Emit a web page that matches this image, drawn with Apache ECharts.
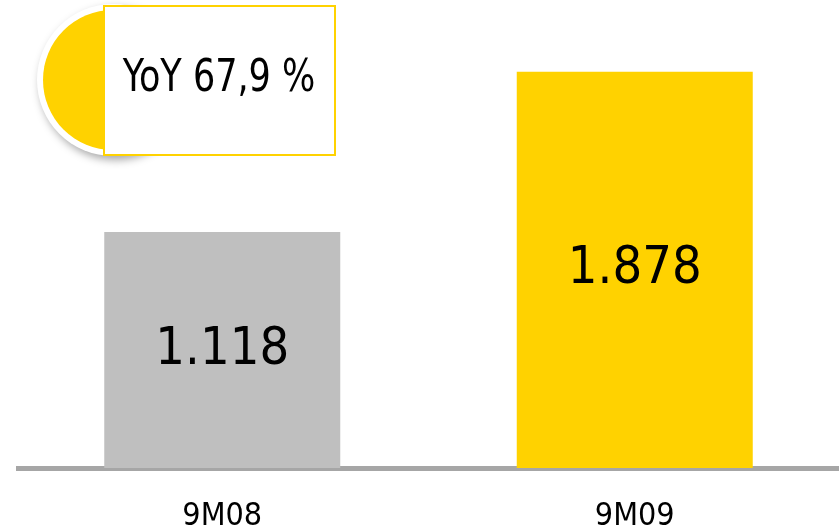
<!DOCTYPE html>
<html>
<head>
<meta charset="utf-8">
<script src="https://cdn.jsdelivr.net/npm/echarts@6/dist/echarts.min.js"></script>
<style>
  html, body { margin: 0; padding: 0; background: #ffffff; }
  #chart { width: 839px; height: 527px; }
</style>
</head>
<body>
<div id="chart"></div>
<script>
// data
const categories = ['9M08', '9M09']
const values = [1.118, 1.878]
const valueLabels = ['1.118', '1.878']
const barColors = ['#bfbfbf', '#ffd200']
const yoyText = 'YoY 67,9 %'

const font = "'DejaVu Sans Condensed', sans-serif"

const chart = echarts.init(document.getElementById('chart'))
chart.setOption({
  backgroundColor: '#ffffff',
  animation: false,
  grid: {
    left: 16,
    right: -2,
    top: 46,
    bottom: 59,
    containLabel: false,
    outerBoundsMode: 'none'
  },
  xAxis: {
    type: 'category',
    data: categories,
    offset: 2.5,
    z: 1,
    axisLine: {
      lineStyle: {
        color: '#a6a6a6',
        width: 5,
        cap: 'butt'
      }
    },
    axisTick: { show: false },
    axisLabel: {
      margin: 30,
      fontFamily: font,
      fontSize: 32,
      color: '#000000'
    }
  },
  yAxis: {
    type: 'value',
    min: 0,
    max: 2,
    show: false,
    splitLine: { show: false }
  },
  series: [{
    type: 'bar',
    barWidth: 236,
    z: 2,
    data: values.map((v, i) => ({
      value: v,
      itemStyle: { color: barColors[i] }
    })),
    label: {
      show: true,
      position: 'inside',
      fontFamily: font,
      fontSize: 52,
      color: '#000000',
      formatter: p => valueLabels[p.dataIndex]
    }
  }],
  graphic: [
    {
      // white rim with soft shadow
      type: 'circle',
      shape: { cx: 113, cy: 80, r: 76 },
      style: {
        fill: '#ffffff',
        shadowBlur: 8,
        shadowOffsetX: 3,
        shadowOffsetY: 4,
        shadowColor: 'rgba(0,0,0,0.35)'
      },
      z: 10
    },
    {
      type: 'circle',
      shape: { cx: 113, cy: 80, r: 70 },
      style: { fill: '#ffd200' },
      z: 11
    },
    {
      type: 'rect',
      shape: { x: 104, y: 6, width: 231, height: 149 },
      style: {
        fill: '#ffffff',
        stroke: '#ffd200',
        lineWidth: 2
      },
      z: 12
    },
    {
      type: 'text',
      x: 219,
      y: 80,
      scaleX: 0.885,
      style: {
        text: yoyText,
        fontFamily: font,
        fontSize: 44,
        fill: '#000000',
        align: 'center',
        verticalAlign: 'middle'
      },
      z: 13
    }
  ]
})
</script>
</body>
</html>
